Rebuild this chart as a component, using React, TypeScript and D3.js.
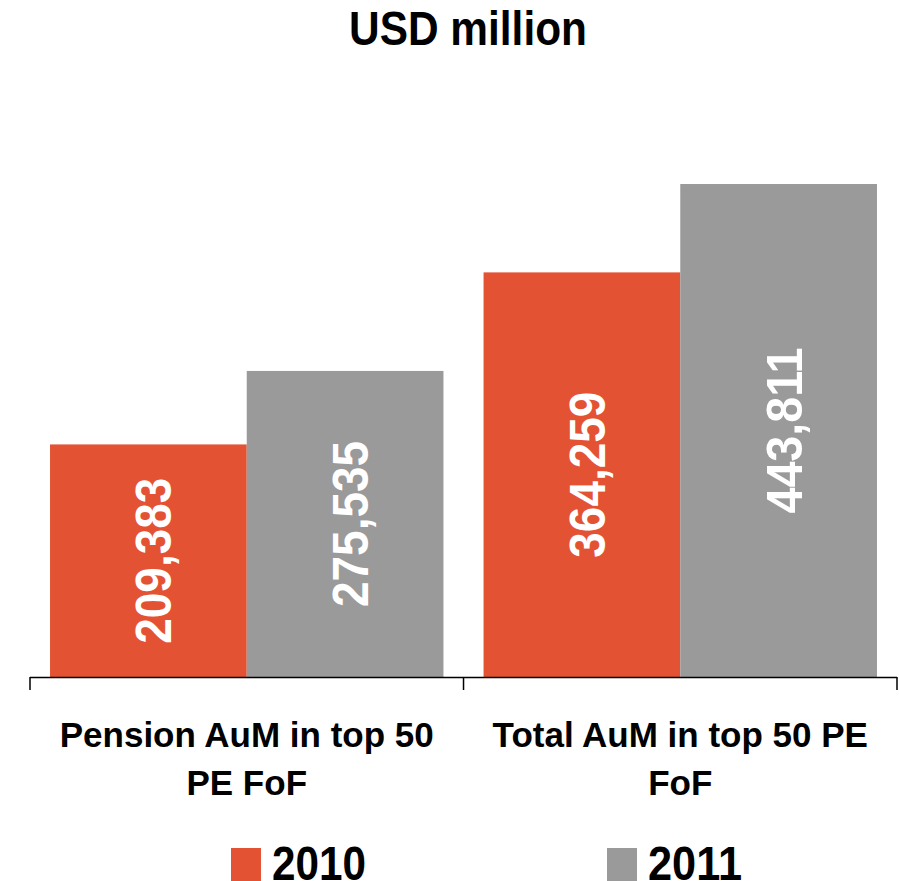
import * as d3 from 'd3';
import React, { useEffect, useRef } from 'react';

const categories = ["Pension AuM in top 50 PE FoF", "Total AuM in top 50 PE FoF"];
const categoryLines = [["Pension AuM in top 50", "PE FoF"], ["Total AuM in top 50 PE", "FoF"]];
const years = ["2010", "2011"];
const values2010 = [209383, 364259];
const values2011 = [275535, 443811];
const colors = ["#E45234", "#9A9A9A"];

const FONT = "'Liberation Sans', Arial, sans-serif";

const App = () => {
    const ref = useRef<SVGSVGElement>(null);

    useEffect(() => {
        const svg = d3.select(ref.current);
        svg.selectAll("*").remove();

        const seriesValues = [values2010, values2011];
        const rows = categories.flatMap((c, ci) =>
            years.map((y, yi) => ({ category: c, year: y, value: seriesValues[yi][ci] }))
        );

        const x = d3.scaleBand<string>()
            .domain(categories)
            .range([30, 897])
            .paddingInner(0.0925)
            .paddingOuter(0.0462);

        const xSub = d3.scaleBand<string>()
            .domain(years)
            .range([0, x.bandwidth()]);

        const y = d3.scaleLinear()
            .domain([0, 500000])
            .range([677, 121.6]);

        const color = d3.scaleOrdinal<string, string>().domain(years).range(colors);

        // title, narrow and tall like the original
        svg.append("text")
            .attr("x", 349)
            .attr("y", 45)
            .attr("font-family", FONT)
            .attr("font-weight", "bold")
            .attr("font-size", 49)
            .attr("textLength", 238)
            .attr("lengthAdjust", "spacingAndGlyphs")
            .text("USD million");

        const groups = svg.selectAll("g.grp")
            .data(categories)
            .enter().append("g")
            .attr("class", "grp")
            .attr("transform", d => `translate(${x(d)},0)`);

        groups.selectAll("rect")
            .data(c => rows.filter(r => r.category === c))
            .enter().append("rect")
            .attr("x", d => xSub(d.year)!)
            .attr("y", d => y(d.value))
            .attr("width", xSub.bandwidth())
            .attr("height", d => y(0) - y(d.value))
            .attr("fill", d => color(d.year));

        groups.selectAll("text.val")
            .data(c => rows.filter(r => r.category === c))
            .enter().append("text")
            .attr("class", "val")
            .attr("transform", d => {
                const cx = xSub(d.year)! + xSub.bandwidth() / 2 + 5;
                const cy = (y(d.value) + y(0)) / 2;
                return `translate(${cx},${cy}) rotate(-90)`;
            })
            .attr("x", -83)
            .attr("dy", "0.36em")
            .attr("fill", "#fff")
            .attr("font-family", FONT)
            .attr("font-weight", "bold")
            .attr("font-size", 50)
            .attr("textLength", 166)
            .attr("lengthAdjust", "spacingAndGlyphs")
            .text(d => d3.format(",")(d.value));

        // axis line with ticks at the band edges
        const step = x.step();
        const edges = [30, 30 + step, 897];
        svg.append("line")
            .attr("x1", 30).attr("x2", 897)
            .attr("y1", 677.5).attr("y2", 677.5)
            .attr("stroke", "#000").attr("stroke-width", 1.5);
        svg.selectAll("line.tick")
            .data(edges)
            .enter().append("line")
            .attr("class", "tick")
            .attr("x1", d => d).attr("x2", d => d)
            .attr("y1", 677).attr("y2", 690)
            .attr("stroke", "#000").attr("stroke-width", 1.5);

        // category labels
        categories.forEach((c, i) => {
            const t = svg.append("text")
                .attr("text-anchor", "middle")
                .attr("font-family", FONT)
                .attr("font-weight", "bold")
                .attr("font-size", 35);
            categoryLines[i].forEach((line, li) => {
                t.append("tspan")
                    .attr("x", x(c)! + x.bandwidth() / 2)
                    .attr("y", 747 + li * 48)
                    .text(line);
            });
        });

        // legend
        const legendX = [231, 607];
        years.forEach((yr, i) => {
            svg.append("rect")
                .attr("x", legendX[i])
                .attr("y", 848)
                .attr("width", 30)
                .attr("height", 33)
                .attr("fill", color(yr));
            svg.append("text")
                .attr("x", legendX[i] + 41)
                .attr("y", 880)
                .attr("font-family", FONT)
                .attr("font-weight", "bold")
                .attr("font-size", 49)
                .attr("textLength", 94)
                .attr("lengthAdjust", "spacingAndGlyphs")
                .text(yr);
        });
    }, []);

    return (
        <svg ref={ref} width={899} height={881}
            style={{ position: "absolute", left: 0, top: 0, background: "#fff" }} />
    );
};

export default App;
